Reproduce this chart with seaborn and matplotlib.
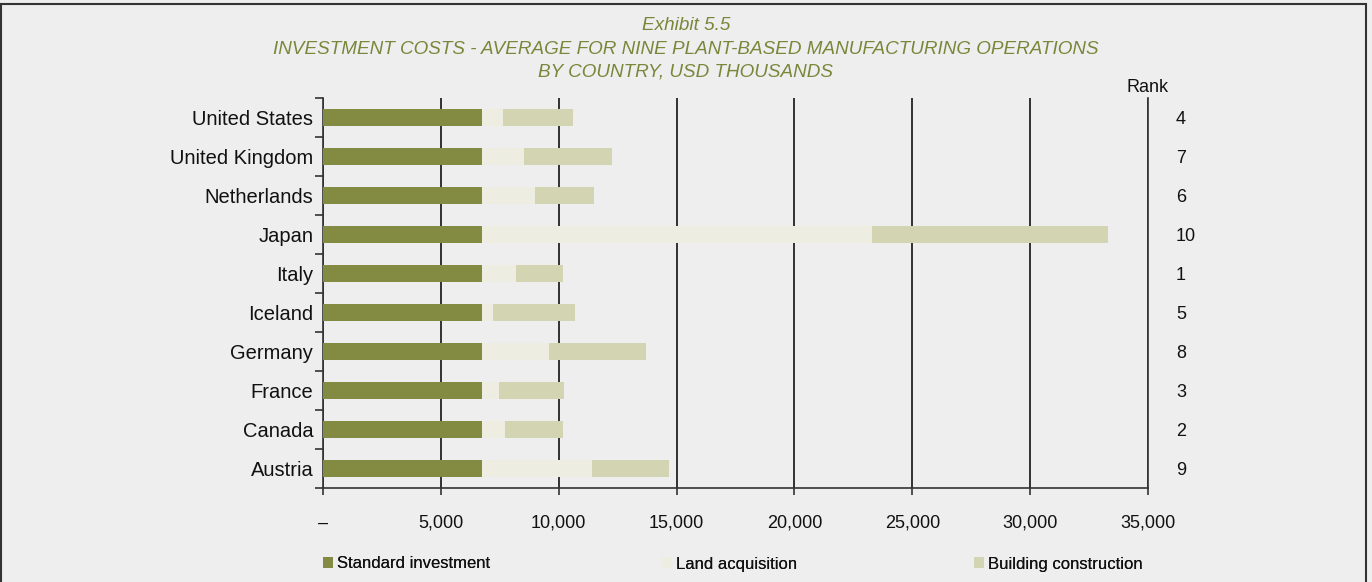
import matplotlib
matplotlib.use("Agg")
import matplotlib.pyplot as plt
import matplotlib.transforms as mtransforms
from matplotlib.patches import Patch, Rectangle
import numpy as np
import pandas as pd
import seaborn as sns

# Investment cost components by country, USD thousands
countries = ["United States", "United Kingdom", "Netherlands", "Japan", "Italy",
             "Iceland", "Germany", "France", "Canada", "Austria"]
standard_investment = [6750, 6750, 6750, 6750, 6750, 6750, 6750, 6750, 6750, 6750]
land_acquisition = [890, 1780, 2240, 16540, 1440, 460, 2840, 720, 970, 4660]
building_construction = [2970, 3730, 2510, 10010, 1990, 3480, 4110, 2750, 2460, 3270]
ranks = [4, 7, 6, 10, 1, 5, 8, 3, 2, 9]

series_names = ["Standard investment", "Land acquisition", "Building construction"]
colors = ["#838A42", "#EDEDE2", "#D3D4B2"]
x_ticks = [0, 5000, 10000, 15000, 20000, 25000, 30000, 35000]
x_tick_labels = ["–", "5,000", "10,000", "15,000", "20,000", "25,000", "30,000", "35,000"]

df = pd.DataFrame({
    "country": countries,
    "standard": standard_investment,
    "land": land_acquisition,
    "building": building_construction,
})
df["end_standard"] = df["standard"]
df["end_land"] = df["standard"] + df["land"]
df["end_building"] = df["end_land"] + df["building"]

sns.set_theme(style="white")
plt.rcParams["font.family"] = ["Liberation Sans", "DejaVu Sans"]

bg = "#EEEEEE"
fig = plt.figure(figsize=(13.72, 5.82), dpi=100, facecolor=bg)
ax = fig.add_axes([323 / 1372, 1 - 488 / 582, 825 / 1372, 390 / 582])
ax.set_facecolor(bg)

# Stacked bars: draw cumulative totals, longest first
for col, color in zip(["end_building", "end_land", "end_standard"], colors[::-1]):
    sns.barplot(data=df, y="country", x=col, order=countries, orient="h",
                color=color, saturation=1, width=0.44, errorbar=None,
                linewidth=0, ax=ax, zorder=3)

ax.set_xlim(0, 35000)
ax.set_ylim(len(countries) - 0.5, -0.5)
ax.set_xticks(x_ticks)
ax.set_xticklabels(x_tick_labels)
ax.set_xlabel("")
ax.set_ylabel("")

ax.xaxis.grid(True, color="#111111", linewidth=1.2)
ax.yaxis.grid(False)
ax.set_axisbelow(True)

for side in ["left", "bottom", "right"]:
    ax.spines[side].set_visible(True)
    ax.spines[side].set_color("#333333")
    ax.spines[side].set_linewidth(1.2)
ax.spines["top"].set_visible(False)

# Category ticks sit between bars
ax.set_yticks(np.arange(len(countries)))
ax.set_yticks(np.arange(len(countries) + 1) - 0.5, minor=True)
ax.tick_params(axis="y", which="major", length=0, pad=7, labelsize=14.5, labelcolor="#111111")
ax.tick_params(axis="y", which="minor", length=6, width=1.2, color="#333333", direction="out", left=True)
ax.tick_params(axis="x", which="major", length=5, width=1.2, color="#333333", direction="out",
               bottom=True, pad=14, labelsize=13, labelcolor="#111111")

# Rank column on the right
trans = mtransforms.blended_transform_factory(ax.transAxes, ax.transData)
for i, r in enumerate(ranks):
    ax.text(1.034, i + 0.05, str(r), transform=trans, ha="left", va="center",
            fontsize=13, color="#111111")
ax.text(1.0, 1.028, "Rank", transform=ax.transAxes, ha="center", va="center",
        fontsize=13, color="#111111")

# Title block
title_color = "#7A863A"
title_lines = ["Exhibit 5.5",
               "INVESTMENT COSTS - AVERAGE FOR NINE PLANT-BASED MANUFACTURING OPERATIONS",
               "BY COUNTRY, USD THOUSANDS"]
for line, ypix in zip(title_lines, [26, 49, 72]):
    fig.text(686 / 1372, 1 - ypix / 582, line, ha="center", va="center",
             fontsize=13.6, style="italic", color=title_color)

# Legend entries
for name, color, xpix in zip(series_names, colors, [323, 662, 974]):
    leg = fig.legend(handles=[Patch(facecolor=color, edgecolor="none", label=name)],
                     loc="center left", bbox_to_anchor=(xpix / 1372, 1 - 564 / 582),
                     frameon=False, fontsize=12, handlelength=0.6, handleheight=0.6,
                     handletextpad=0.25, borderpad=0, borderaxespad=0)
    for t in leg.get_texts():
        t.set_color("#111111")
    fig.add_artist(leg)

# Outer frame
fig.add_artist(Rectangle((1 / 1372, -0.01), 1365 / 1372, 1 - 4 / 582 + 0.01,
                         transform=fig.transFigure, fill=False,
                         edgecolor="#333333", linewidth=1.5))

fig.savefig("out.png", dpi=100, facecolor=bg)
